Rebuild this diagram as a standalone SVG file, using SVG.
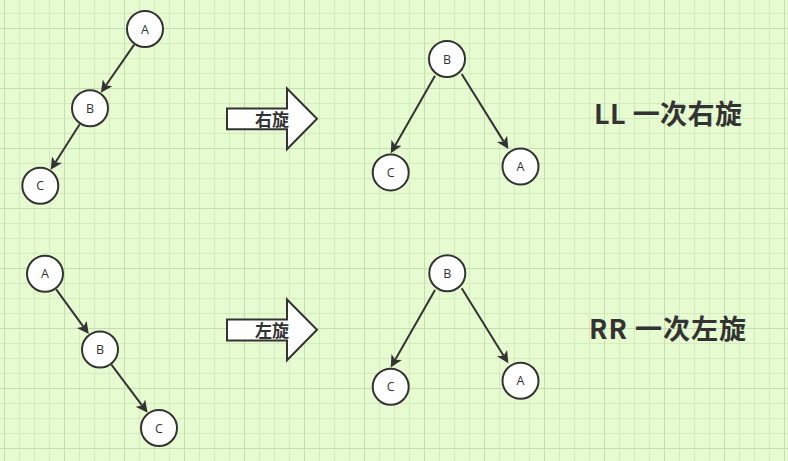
<svg xmlns="http://www.w3.org/2000/svg" width="788" height="461" viewBox="0 0 788 461">
<defs>
<pattern id="grid" patternUnits="userSpaceOnUse" x="4" y="28" width="60" height="60">
<rect x="0" y="0" width="60" height="60" fill="#e6fbd0"/>
<rect x="15" y="0" width="1" height="60" fill="#d4ebbf"/>
<rect x="30" y="0" width="1" height="60" fill="#d4ebbf"/>
<rect x="45" y="0" width="1" height="60" fill="#d4ebbf"/>
<rect x="0" y="15" width="60" height="1" fill="#d4ebbf"/>
<rect x="0" y="30" width="60" height="1" fill="#d4ebbf"/>
<rect x="0" y="45" width="60" height="1" fill="#d4ebbf"/>
<rect x="0" y="0" width="1" height="60" fill="#c6dcb3"/>
<rect x="0" y="0" width="60" height="1" fill="#c6dcb3"/>
</pattern>
<marker id="arr" markerUnits="userSpaceOnUse" markerWidth="14" markerHeight="13" refX="3" refY="6" orient="auto">
<path d="M0,0 L12,6 L0,12 L3,6 Z" fill="#333333"/>
</marker>
<style>
.node circle{fill:#ffffff;stroke:#333333;stroke-width:2}
.node text{font-family:"Open Sans","Noto Sans","Liberation Sans",sans-serif;font-size:12.5px;fill:#333333;text-anchor:middle}
.conn line{stroke:#333333;stroke-width:2;marker-end:url(#arr)}
.big{fill:#ffffff;stroke:#333333;stroke-width:2;stroke-linejoin:miter}
.blabel{font-family:"Noto Sans CJK SC",sans-serif;font-size:17px;font-weight:bold;fill:#333333;text-anchor:middle}
.title{font-family:"Noto Sans CJK SC",sans-serif;font-size:27px;font-weight:bold;fill:#333333}
</style>
</defs>
<rect x="0" y="0" width="788" height="461" fill="url(#grid)"/>

<g id="connectors" class="conn">
<line x1="134.2" y1="44.6" x2="106" y2="85.3"/>
<line x1="79.7" y1="124.3" x2="55.5" y2="162.2"/>
<line x1="56.2" y1="289.3" x2="83.5" y2="326.8"/>
<line x1="111.4" y1="364.7" x2="142.2" y2="405.6"/>
<line x1="435" y1="75.7" x2="395.2" y2="145.4"/>
<line x1="461.7" y1="74" x2="503.6" y2="141.4"/>
<line x1="435" y1="290" x2="395.2" y2="359.7"/>
<line x1="461.7" y1="288.3" x2="503.6" y2="355.7"/>
</g>

<g id="ll-a" class="node"><circle cx="145" cy="29" r="18"/><text x="145" y="33.5">A</text></g>
<g id="ll-b" class="node"><circle cx="90" cy="108.3" r="18"/><text x="90" y="112.8">B</text></g>
<g id="ll-c" class="node"><circle cx="40.3" cy="185.8" r="18"/><text x="40.3" y="190.3">C</text></g>

<g id="llr-b" class="node"><circle cx="447" cy="59" r="18"/><text x="447" y="63.5">B</text></g>
<g id="llr-c" class="node"><circle cx="390.7" cy="172.4" r="18"/><text x="390.7" y="176.9">C</text></g>
<g id="llr-a" class="node"><circle cx="520.5" cy="166.5" r="18"/><text x="520.5" y="171">A</text></g>

<g id="rr-a" class="node"><circle cx="45" cy="273.7" r="18"/><text x="45" y="278.2">A</text></g>
<g id="rr-b" class="node"><circle cx="100" cy="349.5" r="18"/><text x="100" y="354">B</text></g>
<g id="rr-c" class="node"><circle cx="159" cy="428" r="18"/><text x="159" y="432.5">C</text></g>

<g id="rrr-b" class="node"><circle cx="447.3" cy="273.3" r="18"/><text x="447.3" y="277.8">B</text></g>
<g id="rrr-c" class="node"><circle cx="390.7" cy="386.7" r="18"/><text x="390.7" y="391.2">C</text></g>
<g id="rrr-a" class="node"><circle cx="520.5" cy="380.8" r="18"/><text x="520.5" y="385.3">A</text></g>

<g id="arrow-right">
<polygon class="big" points="227,108.5 287,108.5 287,88.5 317,118.8 287,149.2 287,129.3 227,129.3"/>
<text class="blabel" x="272" y="126">右旋</text>
</g>
<g id="arrow-left">
<polygon class="big" points="227,319.5 287,319.5 287,299.5 317,329.8 287,360.2 287,340.5 227,340.5"/>
<text class="blabel" x="272" y="337">左旋</text>
</g>

<g id="label-ll"><text class="title" x="594" y="124" textLength="148" lengthAdjust="spacing">LL 一次右旋</text></g>
<g id="label-rr"><text class="title" x="589" y="339" textLength="157" lengthAdjust="spacing">RR 一次左旋</text></g>
</svg>
